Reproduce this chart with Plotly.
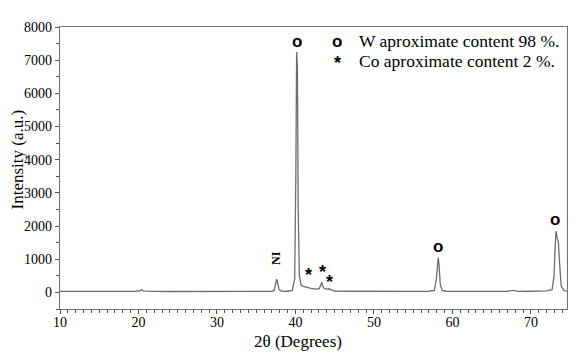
import plotly.graph_objects as go

two_theta = [10, 12, 14, 16, 18, 19.5, 20.2, 20.4, 20.6, 21.0, 21.4, 21.6, 22, 24, 26, 28, 30, 32, 34, 36,
             37.0, 37.3, 37.5, 37.6, 37.7, 37.9, 38.2, 39.0, 39.6, 39.9, 40.05, 40.15, 40.25, 40.35, 40.5,
             40.7, 41.0, 41.5, 42.0, 42.5, 43.0, 43.2, 43.35, 43.5, 43.7, 44.0, 44.3, 44.6, 45, 47, 49, 51,
             53, 55, 57, 57.7, 57.95, 58.1, 58.2, 58.3, 58.45, 58.7, 59.2, 61, 63, 65, 67, 67.8, 68.1, 68.4,
             70, 72, 72.7, 72.95, 73.1, 73.2, 73.35, 73.5, 73.65, 73.85, 74.2, 74.6]
intensity = [30, 28, 30, 27, 30, 32, 50, 85, 45, 40, 55, 40, 30, 28, 25, 24, 26, 25, 22, 25,
             30, 60, 300, 400, 320, 90, 40, 35, 60, 400, 3500, 7250, 6800, 2500, 500,
             230, 180, 140, 120, 100, 110, 200, 310, 180, 110, 100, 110, 70, 40, 35, 30, 30,
             28, 30, 35, 60, 400, 1000, 1050, 800, 250, 60, 35, 30, 30, 28, 35, 60, 40, 30,
             35, 45, 80, 500, 1400, 1850, 1650, 1500, 900, 200, 60, 40]

w_peaks_x = [40.2, 58.2, 73.1]
w_peaks_y = [7550, 1370, 2200]
co_peaks_x = [41.6, 43.4, 44.3]
co_peaks_y = [510, 610, 310]
legend_labels = ["W aproximate content 98 %.", "Co aproximate content 2 %."]

serif = "Liberation Serif"
sans = "Liberation Sans"

fig = go.Figure()
fig.add_trace(go.Scatter(x=two_theta, y=intensity, mode="lines",
                         line=dict(color="#6e6e6e", width=1.3), showlegend=False, hoverinfo="skip"))

ann = []
for x, y in zip(w_peaks_x, w_peaks_y):
    ann.append(dict(x=x, y=y, text="<b>o</b>", showarrow=False,
                    font=dict(family=sans, size=17, color="black")))
for x, y in zip(co_peaks_x, co_peaks_y):
    ann.append(dict(x=x, y=y, text="<b>*</b>", showarrow=False,
                    font=dict(family=sans, size=18, color="black")))
ann.append(dict(x=37.45, y=1050, text="<b>NI</b>", textangle=-90, showarrow=False,
                font=dict(family=serif, size=12, color="black")))
# legend
ann.append(dict(x=45.3, y=7550, text="<b>o</b>", showarrow=False,
                font=dict(family=sans, size=17, color="black")))
ann.append(dict(x=45.3, y=6900, text="<b>*</b>", showarrow=False,
                font=dict(family=sans, size=18, color="black")))
ann.append(dict(x=47.9, y=7580, text=legend_labels[0], showarrow=False, xanchor="left",
                font=dict(family=serif, size=17.5, color="black")))
ann.append(dict(x=47.9, y=6980, text=legend_labels[1], showarrow=False, xanchor="left",
                font=dict(family=serif, size=17.5, color="black")))
# axis titles
ann.append(dict(x=0.47, y=-0.115, xref="paper", yref="paper", text="2θ (Degrees)", showarrow=False,
                xanchor="center", yanchor="middle", font=dict(family=serif, size=17, color="black")))
ann.append(dict(x=-0.083, y=0.53, xref="paper", yref="paper", text="Intensity (a.u.)", showarrow=False,
                xanchor="center", yanchor="middle",
                textangle=-90, font=dict(family=serif, size=17, color="black")))

fig.update_layout(
    width=571, height=353,
    margin=dict(l=52, r=12, t=19, b=52),
    paper_bgcolor="white", plot_bgcolor="white",
    font=dict(family=serif, size=14, color="black"),
    annotations=ann,
    xaxis=dict(range=[10, 74.6], tickvals=[10, 20, 30, 40, 50, 60, 70], automargin=False,
               showgrid=False, zeroline=False, showline=True, mirror=True,
               linecolor="#707070", linewidth=1.2,
               ticks="outside", ticklen=4, tickcolor="#555", tickwidth=1, ticklabelstandoff=-4,
               minor=dict(dtick=1, ticks="outside", ticklen=3, tickcolor="#555"),
               tickfont=dict(family=serif, size=14, color="black")),
    yaxis=dict(range=[-500, 8000], tickvals=[0, 1000, 2000, 3000, 4000, 5000, 6000, 7000, 8000],
               automargin=False,
               showgrid=False, zeroline=False, showline=True, mirror=True,
               linecolor="#707070", linewidth=1.2,
               ticks="outside", ticklen=4, tickcolor="#555", tickwidth=1,
               minor=dict(dtick=500, ticks="outside", ticklen=3, tickcolor="#555"),
               tickfont=dict(family=serif, size=14, color="black")),
)
fig.write_html("out.html")
